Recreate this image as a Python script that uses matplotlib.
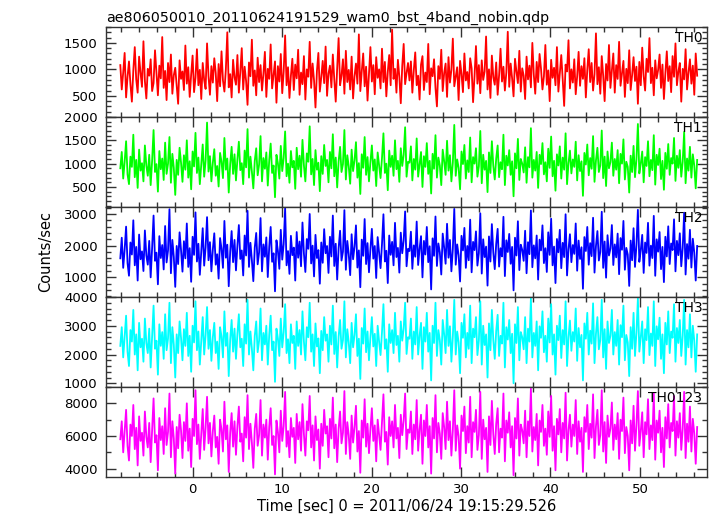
import numpy as np
import matplotlib.pyplot as plt
from matplotlib.ticker import MultipleLocator

plt.rcParams['font.family'] = ['DejaVu Sans']

title = 'ae806050010_20110624191529_wam0_bst_4band_nobin.qdp'
xlabel = 'Time [sec] 0 = 2011/06/24 19:15:29.526'
ylabel = 'Counts/sec'

# time range of the light curve (sec)
t_start = -8.1
t_end = 56.4

names = ['TH0', 'TH1', 'TH2', 'TH3', 'TH0123']
colors = ['#ff0000', '#00ff00', '#0000ff', '#00ffff', '#ff00ff']

th0 = [1080, 620, 940, 1310, 470, 860, 1150, 720, 390, 980, 1420, 810, 560, 1240, 930, 670, 1530, 780, 450, 1010,
       880, 1190, 590, 740, 1360, 920, 510, 1070, 830, 1610, 650, 970, 420, 1120, 760, 1280, 540, 890, 1030, 690,
       350, 1170, 820, 960, 610, 1450, 730, 1040, 480, 900, 1260, 570, 840, 1380, 700, 990, 440, 1120, 800, 630,
       1490, 870, 520, 1060, 750, 1210, 930, 400, 1100, 680, 1340, 790, 580, 1000, 1700, 660, 910, 470, 1180, 850,
       710, 1270, 560, 950, 1400, 620, 1050, 780, 330, 1130, 870, 1560, 690, 980, 510, 1220, 760, 1080, 600, 920,
       1330, 480, 1010, 820, 1470, 640, 900, 1150, 370, 1060, 770, 1290, 550, 960, 1640, 700, 1040, 460, 880, 1200,
       610, 1090, 830, 1370, 520, 940, 720, 1250, 430, 1000, 860, 1520, 650, 1110, 790, 280, 970, 1310, 580, 850,
       1160, 740, 1430, 500, 920, 1070, 660, 1280, 810, 390, 1020, 1590, 700, 880, 1190, 540, 1350, 760, 990, 620,
       1240, 450, 870, 1110, 730, 1660, 590, 960, 1300, 680, 1050, 410, 910, 1420, 770, 1080, 530, 1230, 840, 1000,
       640, 1390, 760, 1140, 490, 950, 1270, 700, 1750, 820, 1010, 560, 1180, 860, 360, 1060, 1480, 720, 930, 1120,
       790, 1150, 560, 980, 1320, 700, 880, 430, 1090, 1250, 610, 940, 760, 1480, 530, 1020, 870, 1190, 650, 300,
       1060, 820, 1370, 590, 930, 1110, 480, 1230, 750, 990, 1580, 680, 860, 1040, 420, 1160, 910, 570, 1300, 790,
       950, 640, 1210, 1020, 380, 870, 1440, 730, 1080, 550, 1170, 800, 960, 1620, 620, 1000, 460, 1260, 850, 710,
       1130, 520, 890, 1390, 770, 1050, 600, 940, 1710, 670, 1110, 830, 490, 1200, 960, 740, 1350, 580, 1020, 880,
       440, 1240, 810, 1070, 660, 1500, 900, 540, 1140, 760, 1290, 1010, 620, 870, 1460, 710, 980, 400, 1180, 840,
       1030, 700, 1420, 580, 920, 1270, 810, 310, 1090, 960, 1550, 640, 1000, 750, 1190, 530, 870, 1330, 690, 1060,
       820, 1210, 470, 990, 1380, 760, 1120, 600, 910, 1680, 720, 1040, 540, 1250, 880, 400, 1100, 790, 1460, 650,
       970, 1300, 560, 1080, 820, 1520, 690, 930, 1160, 480, 1010, 740, 1360, 610, 890, 1230, 780, 1050, 350, 1140,
       700, 1410, 870, 600, 1200, 950, 1590, 740, 1030, 510, 1170, 830, 990, 1280, 650, 1090, 440, 920, 1340, 780,
       1060, 570, 1250, 860, 1490, 700, 960, 1120, 390, 1010, 810, 1380, 620, 940, 1190, 730, 1070, 520, 1300, 880]

th1 = [900, 1250, 680, 1040, 1480, 770, 560, 1150, 930, 1620, 710, 1080, 480, 1300, 850, 1010, 620, 1390, 960, 740,
       1190, 540, 1060, 1720, 820, 990, 400, 1270, 880, 1110, 650, 1450, 780, 1000, 1570, 590, 1210, 910, 330, 1080,
       760, 1340, 1020, 610, 1180, 870, 1500, 700, 1050, 450, 1260, 940, 1660, 800, 1130, 560, 980, 1410, 720, 1070,
       1880, 830, 1160, 620, 1020, 1310, 740, 950, 510, 1230, 1040, 690, 1550, 870, 1110, 380, 990, 1360, 780, 1200,
       640, 1090, 1470, 860, 1010, 560, 1280, 920, 1740, 700, 1150, 830, 470, 1060, 1330, 750, 980, 1590, 620, 1120,
       890, 1240, 530, 1070, 1430, 800, 960, 280, 1190, 1010, 680, 1380, 840, 1120, 1690, 730, 1000, 590, 1270, 920,
       1060, 460, 1340, 880, 1170, 720, 1510, 960, 620, 1220, 1040, 1800, 770, 1100, 540, 1290, 870, 1020, 410, 1160,
       780, 1400, 950, 1080, 600, 1250, 900, 1630, 730, 1130, 490, 1050, 1360, 820, 990, 1720, 660, 1180, 940, 570,
       1300, 840, 1070, 1460, 700, 1010, 350, 1200, 910, 1570, 760, 1140, 620, 1030, 1390, 850, 1090, 520, 1240, 970,
       690, 1120, 1650, 800, 1000, 430, 1280, 930, 1170, 740, 1500, 880, 1060, 610, 1330, 950, 1190, 1780, 720, 1040,
       1020, 1370, 640, 1100, 870, 1540, 720, 990, 1250, 500, 1160, 930, 1440, 780, 1060, 360, 1210, 890, 1610, 700,
       1130, 960, 540, 1300, 1050, 760, 1490, 850, 1180, 620, 1020, 1830, 740, 1090, 910, 450, 1260, 990, 1400, 680,
       1070, 820, 1560, 600, 1140, 1000, 1330, 720, 940, 1700, 580, 1190, 870, 1060, 390, 1240, 800, 1480, 950, 660,
       1110, 1390, 710, 1030, 880, 1620, 540, 1170, 960, 1290, 760, 1050, 300, 1220, 900, 1530, 650, 1100, 1000, 810,
       1350, 590, 1140, 920, 1760, 700, 1080, 850, 1250, 480, 1190, 990, 1440, 770, 1030, 620, 1320, 910, 1580, 730,
       1060, 420, 1200, 960, 1370, 680, 1130, 870, 1650, 560, 1010, 1280, 790, 1090, 930, 1470, 640, 1180, 840, 1050,
       310, 1230, 980, 1410, 750, 1120, 890, 1590, 610, 1070, 1340, 820, 960, 1710, 690, 1150, 520, 1260, 900, 1030,
       1450, 740, 1100, 870, 1290, 580, 1210, 1000, 1520, 660, 1040, 930, 380, 1170, 820, 1380, 710, 1090, 1850, 790,
       1000, 1260, 600, 1140, 950, 1480, 730, 1080, 860, 1610, 550, 1190, 970, 1320, 670, 1060, 440, 1230, 890, 1420,
       760, 1120, 1000, 1550, 630, 1170, 910, 1290, 720, 1040, 1680, 580, 1110, 850, 1360, 700, 1200, 960, 470, 1080]

th2 = [1600, 2250, 1300, 1880, 2600, 1450, 1050, 2100, 1720, 2800, 1380, 1960, 900, 2350, 1570, 1820, 1200, 2480, 1690, 1400,
       2150, 1000, 1930, 2950, 1520, 1780, 780, 2300, 1610, 2020, 1250, 2620, 1470, 1850, 3150, 1130, 2180, 1650, 700, 1990,
       1420, 2420, 1860, 1180, 2140, 1600, 2700, 1330, 1920, 860, 2280, 1710, 3050, 1500, 2060, 1080, 1800, 2550, 1370, 1950,
       2900, 1540, 2110, 1190, 1880, 2390, 1400, 1730, 960, 2240, 1900, 1300, 2780, 1620, 2030, 720, 1810, 2460, 1480, 2180,
       1220, 2000, 2650, 1580, 1850, 1060, 2320, 1690, 3100, 1330, 2090, 1540, 880, 1940, 2400, 1410, 1790, 2870, 1190, 2040,
       1650, 2260, 1010, 1960, 2590, 1490, 1760, 560, 2170, 1840, 1270, 2500, 1560, 2050, 3180, 1380, 1830, 1110, 2310, 1700,
       1940, 900, 2430, 1620, 2130, 1350, 2730, 1750, 1170, 2210, 1900, 3000, 1440, 2000, 1030, 2340, 1610, 1860, 800, 2100,
       1460, 2520, 1760, 1990, 1140, 2280, 1660, 2950, 1360, 2060, 930, 1920, 2470, 1530, 1810, 3120, 1240, 2150, 1730, 1070,
       2360, 1570, 1970, 2640, 1310, 1850, 690, 2190, 1680, 2840, 1420, 2080, 1160, 1890, 2530, 1590, 1990, 980, 2270, 1780,
       1290, 2050, 2990, 1500, 1840, 820, 2320, 1710, 2120, 1380, 2720, 1640, 1930, 1150, 2410, 1760, 2160, 3080, 1350, 1900,
       1830, 2440, 1270, 2010, 1650, 2760, 1390, 1900, 2300, 1000, 2150, 1720, 2590, 1480, 1980, 620, 2230, 1680, 2920, 1360,
       2070, 1790, 1090, 2380, 1940, 1430, 2690, 1620, 2180, 1190, 1890, 3160, 1400, 2040, 1700, 870, 2310, 1850, 2560, 1300,
       1990, 1540, 2820, 1160, 2120, 1860, 2450, 1370, 1760, 3020, 1120, 2200, 1640, 1970, 740, 2290, 1500, 2680, 1780, 1260,
       2060, 2530, 1340, 1920, 1660, 2910, 1040, 2170, 1800, 2370, 1430, 1960, 590, 2250, 1690, 2770, 1230, 2030, 1870, 1520,
       2470, 1130, 2110, 1730, 3110, 1320, 2010, 1600, 2320, 930, 2190, 1850, 2640, 1450, 1920, 1170, 2420, 1710, 2850, 1380,
       1970, 820, 2210, 1790, 2500, 1290, 2090, 1640, 2990, 1060, 1880, 2360, 1480, 2020, 1740, 2700, 1210, 2160, 1580, 1950,
       640, 2270, 1830, 2590, 1400, 2080, 1670, 2880, 1150, 1990, 2460, 1530, 1800, 3070, 1300, 2130, 990, 2330, 1690, 1910,
       2650, 1390, 2040, 1630, 2380, 1100, 2240, 1870, 2780, 1240, 1930, 1720, 730, 2160, 1540, 2550, 1330, 2010, 3130, 1490,
       1860, 2340, 1140, 2100, 1770, 2720, 1370, 2000, 1610, 2940, 1050, 2200, 1810, 2430, 1260, 1960, 850, 2280, 1660, 2610,
       1420, 2070, 1860, 2830, 1190, 2150, 1700, 2390, 1350, 1930, 3040, 1090, 2050, 1590, 2500, 1310, 2220, 1780, 900, 1990]

th3 = [2300, 2950, 1900, 2600, 3350, 2100, 1600, 2850, 2450, 3550, 2000, 2700, 1450, 3100, 2250, 2550, 1750, 3250, 2400, 2050,
       2900, 1550, 2650, 3700, 2200, 2480, 1300, 3050, 2300, 2780, 1850, 3400, 2150, 2560, 3800, 1700, 2950, 2350, 1200, 2700,
       2050, 3150, 2580, 1800, 2880, 2300, 3450, 1950, 2650, 1400, 3000, 2420, 3850, 2150, 2800, 1650, 2500, 3300, 2000, 2680,
       3650, 2200, 2850, 1780, 2600, 3100, 2050, 2450, 1500, 2950, 2620, 1900, 3500, 2300, 2750, 1250, 2520, 3200, 2100, 2900,
       1850, 2720, 3400, 2250, 2550, 1600, 3050, 2380, 3900, 2000, 2800, 2200, 1450, 2650, 3150, 2080, 2480, 3600, 1800, 2750,
       2350, 3000, 1650, 2680, 3350, 2150, 2450, 1050, 2900, 2560, 1950, 3250, 2250, 2780, 3750, 2050, 2530, 1700, 3050, 2400,
       2650, 1500, 3150, 2300, 2850, 2000, 3500, 2450, 1800, 2950, 2600, 3800, 2100, 2700, 1600, 3080, 2280, 2560, 1350, 2820,
       2150, 3300, 2480, 2700, 1750, 3000, 2350, 3700, 2020, 2780, 1550, 2620, 3200, 2200, 2500, 3850, 1900, 2880, 2420, 1700,
       3100, 2250, 2680, 3400, 1950, 2550, 1150, 2920, 2380, 3600, 2080, 2800, 1800, 2600, 3300, 2280, 2720, 1600, 3000, 2450,
       1980, 2780, 3750, 2200, 2530, 1400, 3050, 2400, 2850, 2050, 3450, 2330, 2650, 1750, 3150, 2480, 2900, 3800, 2020, 2600,
       2550, 3250, 1850, 2800, 2350, 3650, 2000, 2650, 3100, 1500, 2950, 2450, 3450, 2100, 2750, 1100, 3000, 2400, 3800, 1950,
       2850, 2500, 1650, 3200, 2700, 2050, 3550, 2300, 2980, 1750, 2620, 3900, 2000, 2800, 2420, 1350, 3100, 2580, 3400, 1900,
       2750, 2200, 3700, 1700, 2900, 2600, 3300, 1980, 2480, 3850, 1650, 3000, 2330, 2700, 1200, 3080, 2150, 3550, 2500, 1850,
       2820, 3380, 1950, 2650, 2380, 3800, 1550, 2950, 2520, 3200, 2050, 2720, 1000, 3050, 2400, 3650, 1800, 2780, 2600, 2180,
       3300, 1700, 2900, 2450, 3950, 1900, 2750, 2300, 3150, 1450, 2980, 2580, 3500, 2080, 2650, 1750, 3250, 2420, 3750, 2000,
       2700, 1300, 3000, 2500, 3350, 1880, 2850, 2350, 3850, 1600, 2600, 3180, 2130, 2780, 2450, 3600, 1780, 2920, 2250, 2680,
       1100, 3080, 2550, 3450, 2000, 2830, 2380, 3780, 1700, 2720, 3300, 2180, 2500, 3900, 1900, 2880, 1500, 3150, 2400, 2650,
       3550, 2000, 2780, 2300, 3200, 1650, 3020, 2600, 3700, 1800, 2680, 2420, 1250, 2950, 2200, 3450, 1950, 2750, 3950, 2100,
       2600, 3150, 1700, 2880, 2500, 3650, 1980, 2730, 2300, 3850, 1600, 2980, 2530, 3280, 1850, 2700, 1350, 3100, 2350, 3500,
       2050, 2800, 2580, 3750, 1750, 2920, 2400, 3200, 1950, 2650, 3900, 1650, 2850, 2250, 3400, 1900, 3000, 2480, 1400, 2700]

th0123 = [5800, 6900, 5000, 6300, 7600, 5400, 4500, 6700, 6000, 7900, 5200, 6500, 4200, 7200, 5700, 6200, 4800, 7500, 5950, 5300,
          6800, 4400, 6400, 8300, 5600, 6050, 3900, 7100, 5750, 6600, 4900, 7700, 5450, 6250, 8600, 4700, 6900, 5850, 3700, 6550,
          5250, 7300, 6350, 4650, 6850, 5700, 8000, 5100, 6450, 4100, 7050, 6000, 8800, 5500, 6700, 4600, 6150, 7650, 5150, 6500,
          8400, 5550, 6800, 4750, 6300, 7250, 5300, 5950, 4300, 7000, 6400, 5050, 8100, 5800, 6650, 3800, 6200, 7400, 5350, 6900,
          4850, 6600, 7800, 5650, 6150, 4450, 7150, 5900, 8500, 5200, 6750, 5600, 4050, 6450, 7350, 5400, 6050, 8200, 4800, 6700,
          5900, 7000, 4550, 6550, 7700, 5450, 6000, 3650, 6950, 6250, 5000, 7550, 5700, 6600, 8700, 5350, 6300, 4700, 7100, 5950,
          6500, 4350, 7350, 5800, 6850, 5100, 7950, 6100, 4800, 6900, 6350, 8450, 5300, 6650, 4500, 7200, 5750, 6400, 4000, 6750,
          5400, 7600, 6150, 6600, 4700, 7050, 5850, 8350, 5250, 6700, 4400, 6450, 7500, 5550, 6200, 8750, 4900, 6850, 6050, 4600,
          7250, 5600, 6550, 7850, 5050, 6300, 3750, 6950, 5900, 8250, 5350, 6750, 4950, 6400, 7700, 5700, 6650, 4450, 7000, 6100,
          5150, 6800, 8550, 5650, 6250, 4250, 7150, 6000, 6900, 5300, 7900, 5850, 6500, 4650, 7300, 6050, 6950, 8600, 5200, 6400,
          6200, 7500, 4900, 6700, 5800, 8200, 5100, 6400, 7300, 4300, 6950, 6000, 7900, 5300, 6600, 3700, 7100, 5850, 8500, 5000,
          6800, 6150, 4600, 7400, 6550, 5200, 8100, 5750, 6900, 4800, 6350, 8800, 5100, 6650, 6000, 4000, 7250, 6300, 7800, 4950,
          6600, 5600, 8400, 4700, 6850, 6250, 7600, 5150, 6050, 8700, 4600, 7000, 5800, 6500, 3800, 7200, 5450, 8150, 6100, 4900,
          6750, 7700, 5000, 6450, 5900, 8600, 4450, 6950, 6200, 7450, 5300, 6600, 3600, 7100, 5850, 8300, 4800, 6700, 6350, 5550,
          7550, 4700, 6900, 6000, 8900, 5050, 6550, 5750, 7350, 4200, 6950, 6250, 7900, 5400, 6450, 4850, 7500, 5950, 8450, 5100,
          6600, 3900, 7050, 6100, 7650, 5000, 6800, 5850, 8650, 4500, 6350, 7300, 5350, 6700, 6000, 8200, 4900, 6900, 5650, 6500,
          3800, 7150, 6250, 7900, 5200, 6750, 5900, 8550, 4650, 6600, 7600, 5450, 6050, 8800, 5050, 6850, 4350, 7250, 5950, 6450,
          8050, 5150, 6700, 5800, 7400, 4600, 7000, 6300, 8350, 4950, 6550, 6000, 3900, 6950, 5550, 7850, 5100, 6650, 8750, 5400,
          6300, 7450, 4700, 6850, 6100, 8250, 5200, 6650, 5750, 8600, 4550, 6950, 6200, 7550, 5000, 6500, 4100, 7150, 5850, 7950,
          5300, 6800, 6300, 8450, 4800, 6900, 5900, 7400, 5150, 6450, 8700, 4650, 6750, 5650, 7800, 5050, 7050, 6150, 4300, 6550]

series = [th0, th1, th2, th3, th0123]

xlim = (-9.7, 57.5)
ylims = [(100, 1800), (70, 2000), (380, 3220), (870, 4000), (3490, 9000)]
ymajor = [500, 500, 1000, 1000, 2000]
yminor = [100, 100, 200, 200, 1000]

fig = plt.figure(figsize=(7.17, 5.16), dpi=100)

left, width = 106 / 717, 601 / 717
top_px, h_px = 27, 90

for i, (vals, name, col) in enumerate(zip(series, names, colors)):
    bottom = 1 - (top_px + (i + 1) * h_px) / 516
    ax = fig.add_axes([left, bottom, width, h_px / 516])
    t = np.linspace(t_start, t_end, len(vals))
    ax.plot(t, vals, color=col, lw=1.3)
    ax.set_xlim(*xlim)
    ax.set_ylim(*ylims[i])
    ax.xaxis.set_major_locator(MultipleLocator(10))
    ax.xaxis.set_minor_locator(MultipleLocator(2))
    ax.yaxis.set_major_locator(MultipleLocator(ymajor[i]))
    ax.yaxis.set_minor_locator(MultipleLocator(yminor[i]))
    ax.tick_params(which='both', direction='in', top=True, right=True,
                   width=1, labelsize=9.5, color='#333333')
    ax.tick_params(which='major', length=7)
    ax.tick_params(which='minor', length=3.5)
    ax.tick_params(axis='y', pad=6)
    ax.tick_params(axis='x', pad=4)
    for s in ax.spines.values():
        s.set_linewidth(1)
        s.set_color('#333333')
    ax.text(0.992, 0.955, name, transform=ax.transAxes, ha='right', va='top',
            fontsize=10)
    if i < 4:
        ax.tick_params(axis='x', labelbottom=False)
    else:
        ax.set_xlabel(xlabel, fontsize=10.5, labelpad=2)
    if i == 0:
        ax.set_title(title, loc='left', fontsize=10.3, pad=4)

fig.text(0.063, 1 - 252 / 516, ylabel, rotation=90, ha='center', va='center',
         fontsize=10.5)

fig.savefig('out.png', dpi=100)
